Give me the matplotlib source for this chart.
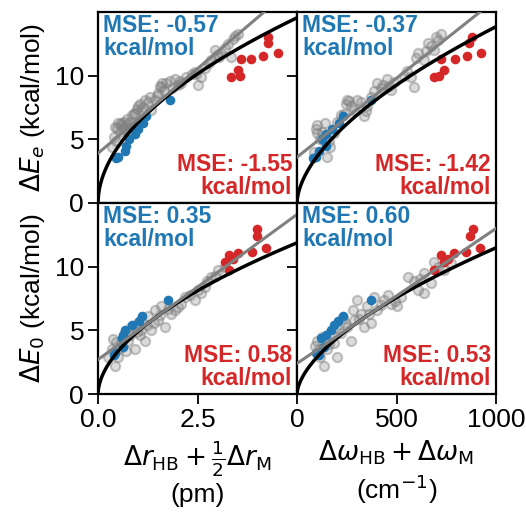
import numpy as np
import matplotlib
matplotlib.use("Agg")
import matplotlib.pyplot as plt

plt.rcParams['font.family'] = ['Liberation Sans', 'DejaVu Sans']
plt.rcParams['mathtext.fontset'] = 'dejavusans'

# ---------------- data ----------------
# Row 1: Delta E_e ; Row 2: Delta E_0
# Column 1: Delta r (pm) ; Column 2: Delta omega (cm^-1)

# gray (other) points
gray_x_tl = [0.35,0.40,0.43,0.45,0.50,0.55,0.59,0.62,0.68,0.72,0.76,0.80,0.85,0.93,0.98,1.01,1.08,1.18,1.25,1.34,1.43,1.51,1.55,1.59,1.65,1.72,1.85,1.93,2.00,2.09,2.20,2.35,2.43,2.51,2.59,2.70,2.84,2.93,3.05,3.09,3.18,3.26,3.35,3.43,3.51,
             0.48,0.57,0.66,0.74,0.90,1.05,1.12,1.30,1.47,1.62,1.80,2.05,2.45,2.78,3.00,3.38]
gray_y_tl = [4.4,5.2,6.0,4.9,6.3,5.6,6.3,5.8,6.0,6.6,5.5,6.4,6.9,7.1,7.4,7.6,7.3,8.1,7.9,7.3,8.1,8.6,9.2,9.1,8.9,9.4,9.0,9.7,9.3,9.4,9.9,10.1,10.3,9.3,9.9,10.6,11.2,12.0,11.5,11.8,12.2,12.5,11.5,13.1,13.3,
             5.9,6.1,6.4,6.2,7.0,7.8,7.5,8.3,8.4,9.4,9.6,9.6,10.1,11.0,11.6,12.9]

gray_x_tr = [84,101,101,118,135,151,168,185,140,219,236,252,270,286,303,337,353,370,387,404,420,454,471,488,539,555,572,589,606,640,673,707,724,690,650,
             95,125,160,200,245,262,320,345,430,462,600,660,700]
gray_y_tr = [4.0,6.1,5.5,5.0,4.9,3.6,4.4,5.5,6.3,6.9,7.0,8.1,7.6,7.3,8.1,6.8,7.6,8.3,8.8,9.4,9.0,9.7,8.9,9.5,10.0,10.4,9.9,9.1,11.8,11.2,12.3,12.8,13.3,12.0,11.9,
             5.8,5.6,4.9,6.4,7.8,8.0,7.9,7.2,9.3,9.2,11.4,12.6,13.0]

gray_x_bl = [0.26,0.34,0.43,0.51,0.59,0.68,0.76,0.84,0.93,1.00,1.09,1.18,1.26,1.34,1.43,1.51,1.59,1.68,1.84,1.93,2.09,2.18,2.43,2.51,2.59,2.68,2.84,3.01,3.18,0.45,0.70,1.05,
             0.38,0.55,0.80,0.97,1.22,1.40,1.55,1.75,2.00,2.30,2.75,2.95]
gray_y_bl = [2.9,3.5,2.2,2.9,4.0,4.8,4.2,5.3,3.5,5.6,5.0,4.2,6.1,5.0,6.6,5.8,6.9,5.3,6.3,6.6,7.1,7.6,7.4,8.2,7.9,8.4,9.2,9.7,10.0,4.1,3.4,4.6,
             4.3,3.6,4.6,4.9,5.4,5.6,6.2,6.7,6.8,7.8,8.9,9.3]

gray_x_br = [101,118,135,151,168,185,202,219,252,269,286,320,337,353,370,404,438,471,505,522,589,606,640,640,673,707,740,774,303,387,110,230,
             90,128,160,195,240,280,310,360,420,455,490,560,620,690]
gray_y_br = [4.2,2.9,2.2,3.5,4.8,4.0,2.9,4.8,5.3,4.2,5.8,6.3,5.3,6.9,5.6,6.6,7.4,7.1,6.9,7.6,8.9,8.2,9.5,7.9,8.7,10.0,9.7,10.3,7.4,7.6,3.5,6.0,
             3.8,4.5,3.9,5.2,5.6,6.6,5.9,6.3,7.0,7.8,7.3,9.2,9.0,10.4]

# blue points
blue_y_top = [8.1, 6.8, 6.3, 5.8, 5.4, 5.0, 4.5, 4.1, 3.6, 3.5]
blue_x_tl = [1.82, 1.21, 1.12, 1.00, 0.92, 0.79, 0.71, 0.67, 0.50, 0.45]
blue_x_tr = [370, 229, 212, 178, 145, 128, 145, 110, 94, 80]
blue_y_bot = [7.4, 6.1, 5.7, 5.4, 5.0, 4.6, 4.4, 3.7, 3.2, 3.1]
blue_x_bl = [1.75, 1.10, 1.04, 0.86, 0.69, 0.62, 0.60, 0.64, 0.43, 0.40]
blue_x_br = [372, 229, 204, 185, 170, 145, 120, 135, 94, 110]

# red points
red_y_top = [13.06, 12.6, 11.8, 11.55, 11.34, 11.34, 10.45, 9.92, 10.0]
red_x_tl = [4.28, 4.26, 4.53, 4.15, 3.84, 3.59, 3.51, 3.34, 3.57]
red_x_tr = [880, 866, 926, 852, 796, 724, 741, 690, 715]
red_y_bot = [12.93, 12.4, 11.44, 11.15, 11.05, 10.9, 10.35, 9.74, 10.6]
red_x_bl = [3.99, 3.99, 4.22, 3.86, 3.52, 3.30, 3.18, 3.28, 3.40]
red_x_br = [884, 867, 922, 850, 791, 724, 741, 690, 760]

# fits: black power-law curve (a * x**b), gray linear fit (c0 + c1*x)
power_fit = {'tl': (6.3, 0.52), 'tr': (0.252, 0.58), 'bl': (4.9, 0.55), 'br': (0.182, 0.60)}
lin_fit = {'tl': (3.9, 2.66), 'tr': (3.6, 0.0124), 'bl': (2.7, 2.28), 'br': (2.4, 0.0106)}

mse_blue = {'tl': '-0.57', 'tr': '-0.37', 'bl': '0.35', 'br': '0.60'}
mse_red = {'tl': '-1.55', 'tr': '-1.42', 'bl': '0.58', 'br': '0.53'}

xlims = {'l': (0, 5.0), 'r': (0, 1000)}
xticks_l = [0, 2.5]
xticklabels_l = ['0.0', '2.5']
xticks_r = [0, 500, 1000]
yticks = [0, 5, 10]

BLUE = '#1f77b4'
RED = '#d62728'
FS = 19

# ---------------- figure ----------------
fig = plt.figure(figsize=(5.26, 5.13), dpi=100)
L, R, B, T = 98/526, 496/526, 1-394/513, 1-12/513
W = (R-L)/2
H = (T-B)/2

panels = {
    'tl': (gray_x_tl, gray_y_tl, blue_x_tl, blue_y_top, red_x_tl, red_y_top, 'l', 0, 1),
    'tr': (gray_x_tr, gray_y_tr, blue_x_tr, blue_y_top, red_x_tr, red_y_top, 'r', 1, 1),
    'bl': (gray_x_bl, gray_y_bl, blue_x_bl, blue_y_bot, red_x_bl, red_y_bot, 'l', 0, 0),
    'br': (gray_x_br, gray_y_br, blue_x_br, blue_y_bot, red_x_br, red_y_bot, 'r', 1, 0),
}

axes = {}
for key, (gx, gy, bx, by, rx, ry, col, ci, ri) in panels.items():
    ax = fig.add_axes([L + ci*W, B + ri*H, W, H])
    axes[key] = ax
    ax.scatter(gx, gy, s=45, facecolors=(0.5, 0.5, 0.5, 0.28),
               edgecolors=(0.5, 0.5, 0.5, 0.45), linewidths=1.5, zorder=2)
    ax.scatter(bx, by, s=48, color=BLUE, zorder=3, linewidths=0)
    ax.scatter(rx, ry, s=48, color=RED, zorder=3, linewidths=0)
    xl = xlims[col]
    xx = np.linspace(xl[0], xl[1], 400)
    a, b = power_fit[key]
    ax.plot(xx, a*xx**b, color='black', lw=2.5, zorder=4)
    c0, c1 = lin_fit[key]
    ax.plot(xx, c0 + c1*xx, color='gray', lw=2.2, zorder=4)
    ax.set_xlim(*xl)
    ax.set_ylim(0, 15)
    ax.set_yticks(yticks)
    if col == 'l':
        ax.set_xticks(xticks_l)
        ax.set_xticklabels(xticklabels_l)
    else:
        ax.set_xticks(xticks_r)
    ax.tick_params(direction='out', length=7, width=1.3, labelsize=FS, pad=3)
    if ri == 1:
        ax.tick_params(labelbottom=False)
    if ci == 1:
        ax.tick_params(labelleft=False)
    for s in ax.spines.values():
        s.set_linewidth(1.6)
    ax.text(0.025, 0.99, 'MSE: ' + mse_blue[key] + '\nkcal/mol', transform=ax.transAxes,
            ha='left', va='top', color=BLUE, fontsize=16.5, fontweight='bold', linespacing=1.0)
    ax.text(0.975, 0.02, 'MSE: ' + mse_red[key] + '\nkcal/mol', transform=ax.transAxes,
            ha='right', va='bottom', color=RED, fontsize=16.5, fontweight='bold', linespacing=1.0)

axes['tl'].set_ylabel(r'$\Delta E_e$ (kcal/mol)', fontsize=FS, labelpad=6)
axes['bl'].set_ylabel(r'$\Delta E_0$ (kcal/mol)', fontsize=FS, labelpad=6)
axes['bl'].set_xlabel('$\\Delta r_\\mathrm{HB} + \\frac{1}{2}\\Delta r_\\mathrm{M}$\n(pm)', fontsize=FS, labelpad=5)
axes['br'].set_xlabel('$\\Delta\\omega_\\mathrm{HB} + \\Delta\\omega_\\mathrm{M}$\n(cm$^{-1}$)', fontsize=FS, labelpad=5)

fig.savefig('out.png', dpi=100)
